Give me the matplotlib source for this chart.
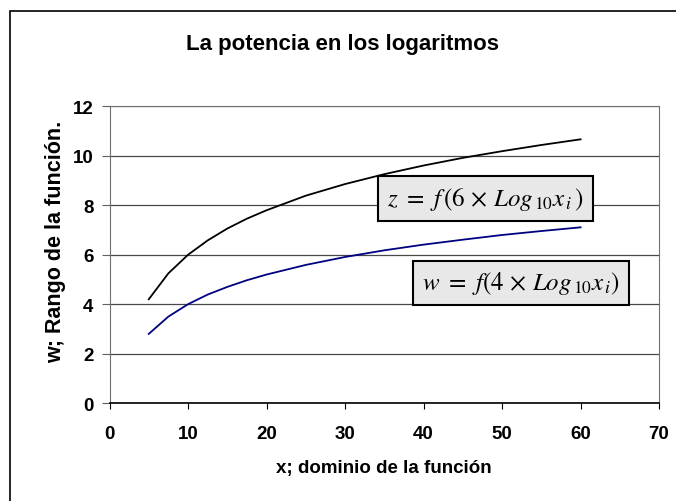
import matplotlib
matplotlib.use("Agg")
import matplotlib.pyplot as plt
from matplotlib.patches import Rectangle

plt.rcParams['font.family'] = ['Liberation Sans', 'DejaVu Sans']
plt.rcParams['mathtext.fontset'] = 'stix'

# ---- data -----------------------------------------------------------------
x_vals = [5, 7.5, 10, 12.5, 15, 17.5, 20, 25, 30, 35, 40, 45, 50, 55, 60]
z_vals = [4.2, 5.25, 6.0, 6.58, 7.06, 7.46, 7.8, 8.39, 8.86, 9.26, 9.61,
          9.92, 10.19, 10.44, 10.67]
w_vals = [2.8, 3.5, 4.0, 4.39, 4.70, 4.97, 5.2, 5.59, 5.91, 6.18, 6.41,
          6.61, 6.80, 6.96, 7.11]

x_ticks = [0, 10, 20, 30, 40, 50, 60, 70]
y_ticks = [0, 2, 4, 6, 8, 10, 12]

title = "La potencia en los logaritmos"
xlabel = "x; dominio de la función"
ylabel = "w; Rango de la función."
z_label = r"$z\ =\ f\,(6\,\times\,Log_{\,10}x_{\,i}\,)$"
w_label = r"$w\ =\ f\left(4\,\times\,Log_{\,10}x_{\,i}\right)$"

# ---- figure ---------------------------------------------------------------
fig = plt.figure(figsize=(6.76, 5.02), dpi=100)

# outer chart frame (left/top edges visible)
fig.patches.append(Rectangle((10 / 676, -0.05), 1.2, 1 - 12 / 502 + 0.05,
                             transform=fig.transFigure, fill=False,
                             edgecolor='black', linewidth=1.2))

ax = fig.add_axes([0.162, 0.195, 0.813, 0.591])

ax.plot(x_vals, z_vals, color='black', linewidth=1.3)
ax.plot(x_vals, w_vals, color='#000080', linewidth=1.3)

ax.set_xlim(0, 70)
ax.set_ylim(0, 12)
ax.set_xticks(x_ticks)
ax.set_yticks(y_ticks)
ax.tick_params(axis='both', labelsize=13.5, direction='out')
ax.tick_params(axis='x', length=4, pad=12)
ax.tick_params(axis='y', length=5.5, pad=6, colors='#606060',
               labelcolor='black')
for lab in ax.get_xticklabels() + ax.get_yticklabels():
    lab.set_fontweight('bold')

ax.grid(axis='y', color='#484848', linewidth=0.9)
ax.set_axisbelow(True)

for side in ['left', 'right', 'top']:
    ax.spines[side].set_color('#707070')
ax.spines['bottom'].set_color('black')
ax.spines['bottom'].set_linewidth(1.2)

fig.text(384 / 676, 1 - 469 / 502, xlabel, ha='center', va='center',
         fontsize=13.5, fontweight='bold')
fig.text(56 / 676, 1 - 242 / 502, ylabel, ha='center', va='center',
         rotation=90, fontsize=15.5, fontweight='bold')

fig.text(342 / 676, 1 - 50 / 502, title, ha='center', va='baseline',
         fontsize=16, fontweight='bold')

box = dict(boxstyle='square,pad=0.35', facecolor='#e8e8e8',
           edgecolor='black', linewidth=1.5)
ax.text(47.9, 8.28, z_label, ha='center', va='center', fontsize=18,
        bbox=box)
ax.text(52.4, 4.86, w_label, ha='center', va='center', fontsize=18,
        bbox=box)

fig.savefig("out.png", dpi=100)
